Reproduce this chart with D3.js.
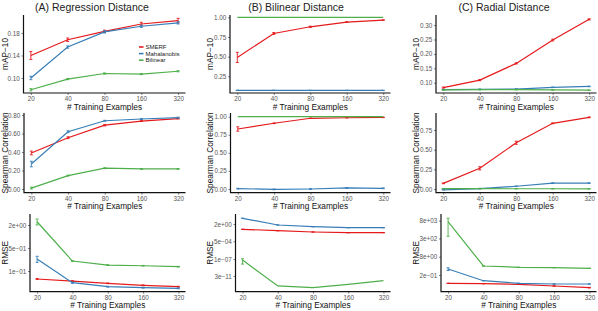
<!DOCTYPE html>
<html>
<head>
<meta charset="utf-8">
<script src="https://cdn.jsdelivr.net/npm/d3@7"></script>
<style>
  html, body { margin: 0; padding: 0; background: #fff; }
  svg { display: block; font-family: "Liberation Sans", Arial, sans-serif; }
</style>
</head>
<body>
<script>
// Datos: tamaños de entrenamiento y métodos
const trainingSizes = [20, 40, 80, 160, 320];
const methods = ["SMERF", "Mahalanobis", "Bilinear"];

// Títulos de columnas y ejes
const columnTitles = ["(A) Regression Distance", "(B) Bilinear Distance", "(C) Radial Distance"];
const rowTitles = ["mAP\u221210", "Spearman Correlation", "RMSE"];
const xTitle = "# Training Examples";

// mAP-10 (fila 1), orden: SMERF, Mahalanobis, Bilinear
const mapRegression = [
  [0.140, 0.168, 0.183, 0.196, 0.202],
  [0.100, 0.155, 0.182, 0.192, 0.198],
  [0.079, 0.098, 0.108, 0.107, 0.112]
];
const mapRegressionErr = [
  [0.007, 0.003, 0.002, 0.003, 0.004],
  [0.003, 0.002, 0.002, 0.002, 0.002],
  [0.002, 0.001, 0.001, 0.001, 0.001]
];
const mapBilinear = [
  [0.49, 0.795, 0.88, 0.94, 0.965],
  [0.071, 0.071, 0.070, 0.070, 0.070],
  [1.0, 1.0, 1.0, 1.0, 1.0]
];
const mapBilinearErr = [
  [0.065, 0.012, 0.008, 0.004, 0.004],
  [0.002, 0.002, 0.002, 0.002, 0.002],
  [0, 0, 0, 0, 0]
];
const mapRadial = [
  [0.083, 0.109, 0.167, 0.248, 0.320],
  [0.076, 0.077, 0.078, 0.084, 0.087],
  [0.075, 0.076, 0.076, 0.075, 0.074]
];
const mapRadialErr = [
  [0.002, 0.002, 0.002, 0.003, 0.002],
  [0.001, 0.001, 0.001, 0.001, 0.001],
  [0.001, 0.001, 0.001, 0.001, 0.001]
];

// Correlación de Spearman (fila 2)
const spearmanRegression = [
  [0.39, 0.555, 0.69, 0.735, 0.762],
  [0.27, 0.62, 0.738, 0.757, 0.772],
  [0.01, 0.145, 0.225, 0.217, 0.217]
];
const spearmanRegressionErr = [
  [0.02, 0.01, 0.008, 0.005, 0.005],
  [0.03, 0.01, 0.005, 0.005, 0.005],
  [0.01, 0.005, 0.005, 0.005, 0.005]
];
const spearmanBilinear = [
  [0.83, 0.909, 0.978, 0.985, 0.99],
  [0.005, -0.005, 0.0, 0.015, 0.01],
  [1.0, 1.0, 1.0, 1.0, 1.0]
];
const spearmanBilinearErr = [
  [0.03, 0.005, 0.003, 0.003, 0.003],
  [0.005, 0.005, 0.005, 0.005, 0.005],
  [0, 0, 0, 0, 0]
];
const spearmanRadial = [
  [0.072, 0.263, 0.588, 0.835, 0.911],
  [-0.01, 0.005, 0.035, 0.075, 0.075],
  [0.005, 0.005, 0.003, 0.003, 0.002]
];
const spearmanRadialErr = [
  [0.005, 0.02, 0.02, 0.005, 0.005],
  [0.003, 0.003, 0.003, 0.003, 0.003],
  [0.002, 0.002, 0.002, 0.002, 0.002]
];

// RMSE (fila 3, escala logarítmica)
const rmseRegression = [
  [0.0624, 0.0547, 0.047, 0.0414, 0.0378],
  [0.229, 0.049, 0.0378, 0.0354, 0.034],
  [2.6, 0.201, 0.155, 0.148, 0.139]
];
const rmseRegressionErr = [
  [0.002, 0.001, 0.001, 0.001, 0.001],
  [0.045, 0.002, 0.001, 0.001, 0.001],
  [0.5, 0.005, 0.003, 0.003, 0.003]
];
const rmseBilinear = [
  [0.158, 0.0806, 0.0432, 0.031, 0.031],
  [30.8, 1.24, 0.548, 0.34, 0.34],
  [6.4e-8, 2.5e-13, 1.1e-13, 5.6e-13, 3.2e-12]
];
const rmseBilinearErr = [
  [0.005, 0.003, 0.002, 0.001, 0.001],
  [1.5, 0.05, 0.02, 0.01, 0.01],
  [5.5e-8, 0, 0, 0, 0]
];
const rmseRadial = [
  [0.044, 0.0407, 0.0362, 0.026, 0.0188],
  [0.703, 0.0728, 0.044, 0.0384, 0.0384],
  [6800, 1.26, 0.98, 0.905, 0.805]
];
const rmseRadialErr = [
  [0.001, 0.001, 0.001, 0.001, 0.001],
  [0.18, 0.003, 0.002, 0.001, 0.001],
  [6400, 0.03, 0.02, 0.02, 0.02]
];

// Marcas del eje Y
const ticksMapRegression = [0.10, 0.14, 0.18];
const ticksMapBilinear = [0.25, 0.50, 0.75, 1.00];
const ticksMapRadial = [0.10, 0.15, 0.20, 0.25, 0.30];
const ticksSpearmanRegression = [0.00, 0.20, 0.40, 0.60, 0.80];
const ticksSpearmanBilinear = [0.00, 0.25, 0.50, 0.75, 1.00];
const ticksSpearmanRadial = [0.00, 0.25, 0.50, 0.75];
const ticksRmseRegression = [0.105, 0.47, 2.1];
const ticksRmseBilinear = [3e-11, 1e-7, 5e-4, 2];
const ticksRmseRadial = [0.22, 7.6, 260, 8200];

// Estilo
const colores = ["#E41A1C", "#377EB8", "#4DAF4A"];
const width = 598, height = 311;

// Disposición de cada panel (posiciones en píxeles)
const rowBox = [[15, 93], [113, 192.7], [214, 291.7]];
const colRight = [185.5, 390.5, 596.5];
const colLeft = [[23.5, 24, 30], [230, 230.5, 235.5], [436, 436, 441]];
const yTitleX = [7.5, 212.5, 418.5];
const titleX = [92, 296, 504];

// Paneles
const paneles = [
  { col: 0, row: 0, vals: mapRegression, errs: mapRegressionErr, ticks: ticksMapRegression, domain: [0.0733, 0.212], log: false },
  { col: 1, row: 0, vals: mapBilinear, errs: mapBilinearErr, ticks: ticksMapBilinear, domain: [0.037, 1.03], log: false },
  { col: 2, row: 0, vals: mapRadial, errs: mapRadialErr, ticks: ticksMapRadial, domain: [0.0643, 0.335], log: false },
  { col: 0, row: 1, vals: spearmanRegression, errs: spearmanRegressionErr, ticks: ticksSpearmanRegression, domain: [-0.04, 0.822], log: false },
  { col: 1, row: 1, vals: spearmanBilinear, errs: spearmanBilinearErr, ticks: ticksSpearmanBilinear, domain: [-0.051, 1.051], log: false },
  { col: 2, row: 1, vals: spearmanRadial, errs: spearmanRadialErr, ticks: ticksSpearmanRadial, domain: [-0.047, 0.966], log: false },
  { col: 0, row: 2, vals: rmseRegression, errs: rmseRegressionErr, ticks: ticksRmseRegression, domain: [0.0273, 4.30], log: true },
  { col: 1, row: 2, vals: rmseBilinear, errs: rmseBilinearErr, ticks: ticksRmseBilinear, domain: [1.6e-14, 241], log: true },
  { col: 2, row: 2, vals: rmseRadial, errs: rmseRadialErr, ticks: ticksRmseRadial, domain: [0.00863, 30100], log: true }
];

// Formato al estilo de R: 2e+00, 5e-01
function formatoR(v) {
  var s = v.toExponential(0);
  var m = s.match(/^(\d)e([+-])(\d+)$/);
  return (m[1] + "e" + m[2] + m[3].padStart(2, "0")).replace("-", "\u2212");
}

var svg = d3.select("body").append("svg")
  .attr("width", width)
  .attr("height", height);

// Títulos de columnas
columnTitles.forEach(function(t, i) {
  svg.append("text")
    .attr("x", titleX[i])
    .attr("y", 10.5)
    .attr("text-anchor", "middle")
    .attr("font-size", "10.5px")
    .attr("fill", "#222")
    .text(t);
});

paneles.forEach(function(p) {
  var left = colLeft[p.col][p.row];
  var right = colRight[p.col];
  var top = rowBox[p.row][0];
  var bottom = rowBox[p.row][1];

  // Escala X: log2 con 5% de expansión
  var x = d3.scaleLog().base(2)
    .domain([20 / Math.pow(2, 0.2), 320 * Math.pow(2, 0.2)])
    .range([left, right]);
  var y = (p.log ? d3.scaleLog() : d3.scaleLinear())
    .domain(p.domain)
    .range([bottom, top]);

  var g = svg.append("g");

  // Eje Y
  var yAxis = d3.axisLeft(y)
    .tickValues(p.ticks)
    .tickSize(2)
    .tickPadding(1.8)
    .tickFormat(p.log ? formatoR : d3.format(".2f"));
  var gy = g.append("g")
    .attr("transform", "translate(" + left + ",0)")
    .call(yAxis);
  gy.select(".domain").remove();
  gy.selectAll(".tick line").attr("stroke", "#333").attr("stroke-width", 0.6);
  gy.selectAll(".tick text")
    .attr("font-size", "6.3px")
    .attr("fill", "#555")
    .attr("font-family", "Liberation Sans, Arial, sans-serif");

  // Eje X
  var xAxis = d3.axisBottom(x)
    .tickValues(trainingSizes)
    .tickSize(2)
    .tickPadding(1.5)
    .tickFormat(d3.format("d"));
  var gx = g.append("g")
    .attr("transform", "translate(0," + bottom + ")")
    .call(xAxis);
  gx.select(".domain").remove();
  gx.selectAll(".tick line").attr("stroke", "#333").attr("stroke-width", 0.6);
  gx.selectAll(".tick text")
    .attr("font-size", "6.3px")
    .attr("fill", "#555")
    .attr("font-family", "Liberation Sans, Arial, sans-serif");

  // Líneas de los ejes
  g.append("path")
    .attr("d", "M" + left + "," + top + "V" + bottom + "H" + right)
    .attr("fill", "none")
    .attr("stroke", "#111")
    .attr("stroke-width", 1.2);

  // Títulos de ejes
  g.append("text")
    .attr("x", (left + right) / 2)
    .attr("y", bottom + 16.5)
    .attr("text-anchor", "middle")
    .attr("font-size", "8.3px")
    .attr("fill", "#111")
    .text(xTitle);

  g.append("text")
    .attr("transform", "translate(" + yTitleX[p.col] + "," + ((top + bottom) / 2) + ") rotate(-90)")
    .attr("text-anchor", "middle")
    .attr("font-size", "8.3px")
    .attr("fill", "#111")
    .text(rowTitles[p.row]);

  // Series
  var linea = d3.line()
    .x(function(d) { return x(d.n); })
    .y(function(d) { return y(d.v); });

  p.vals.forEach(function(serie, k) {
    var pts = serie.map(function(v, i) {
      return { n: trainingSizes[i], v: v, e: p.errs[k][i] };
    });
    g.append("path")
      .datum(pts)
      .attr("d", linea)
      .attr("fill", "none")
      .attr("stroke", colores[k])
      .attr("stroke-width", 1.2);

    // Barras de error
    pts.forEach(function(d) {
      if (!d.e) return;
      var lo = d.v - d.e, hi = d.v + d.e;
      if (p.log && lo <= 0) lo = d.v / 10;
      var cx = x(d.n);
      var y1 = y(lo), y2 = y(hi);
      g.append("path")
        .attr("d", "M" + cx + "," + y1 + "V" + y2 +
                   "M" + (cx - 1.5) + "," + y1 + "H" + (cx + 1.5) +
                   "M" + (cx - 1.5) + "," + y2 + "H" + (cx + 1.5))
        .attr("fill", "none")
        .attr("stroke", colores[k])
        .attr("stroke-width", 0.9);
    });
  });
});

// Leyenda (panel A, fila 1)
var leyenda = svg.append("g").attr("transform", "translate(139,47)");
methods.forEach(function(m, i) {
  leyenda.append("line")
    .attr("x1", 0).attr("x2", 4.5)
    .attr("y1", i * 6.6).attr("y2", i * 6.6)
    .attr("stroke", colores[i])
    .attr("stroke-width", 1.6);
  leyenda.append("text")
    .attr("x", 6.5)
    .attr("y", i * 6.6)
    .attr("dy", "0.35em")
    .attr("font-size", "6px")
    .attr("fill", "#222")
    .text(m);
});
</script>
</body>
</html>
